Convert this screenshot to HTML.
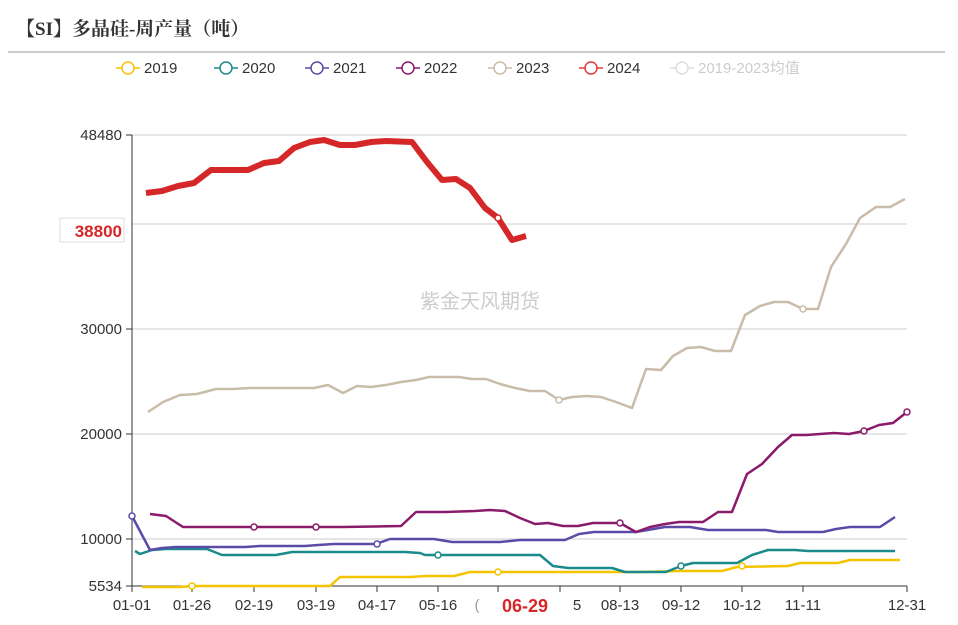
<!DOCTYPE html>
<html><head><meta charset="utf-8"><style>
body{margin:0;background:#fff;width:958px;height:620px;overflow:hidden;font-family:"Liberation Sans","Noto Sans CJK SC",sans-serif}
</style></head><body>
<svg width="958" height="620" xmlns="http://www.w3.org/2000/svg" font-family="Liberation Sans, Noto Sans CJK SC, sans-serif">
<text x="16" y="35" font-size="19" font-weight="bold" fill="#333" font-family="Liberation Serif, Noto Serif CJK SC, serif">【SI】多晶硅-周产量（吨）</text>
<line x1="8" y1="52" x2="945" y2="52" stroke="#bbb" stroke-width="1.5"/>
<g font-size="15" fill="#333">
<g fill="none" stroke-width="1.5">
<line x1="116" y1="68" x2="140" y2="68" stroke="#f5c400"/><circle cx="128" cy="68" r="6" fill="#fff" stroke="#f5c400"/>
<line x1="214" y1="68" x2="238" y2="68" stroke="#1b8a8a"/><circle cx="226" cy="68" r="6" fill="#fff" stroke="#1b8a8a"/>
<line x1="305" y1="68" x2="329" y2="68" stroke="#5b4aa8"/><circle cx="317" cy="68" r="6" fill="#fff" stroke="#5b4aa8"/>
<line x1="396" y1="68" x2="420" y2="68" stroke="#8a1a6a"/><circle cx="408" cy="68" r="6" fill="#fff" stroke="#8a1a6a"/>
<line x1="488" y1="68" x2="512" y2="68" stroke="#c9bca8"/><circle cx="500" cy="68" r="6" fill="#fff" stroke="#c9bca8"/>
<line x1="579" y1="68" x2="603" y2="68" stroke="#e03c3c"/><circle cx="591" cy="68" r="6" fill="#fff" stroke="#e03c3c"/>
<line x1="670" y1="68" x2="694" y2="68" stroke="#ddd"/><circle cx="682" cy="68" r="6" fill="#fff" stroke="#ddd"/>
</g>
<text x="144" y="73">2019</text><text x="242" y="73">2020</text><text x="333" y="73">2021</text><text x="424" y="73">2022</text><text x="516" y="73">2023</text><text x="607" y="73">2024</text><text x="698" y="73" fill="#ccc">2019-2023均值</text>
</g>
<g stroke="#ccc" stroke-width="1">
<line x1="132" y1="135" x2="907" y2="135"/><line x1="132" y1="224" x2="907" y2="224"/><line x1="132" y1="329" x2="907" y2="329"/><line x1="132" y1="434" x2="907" y2="434"/><line x1="132" y1="539" x2="907" y2="539"/>
</g>
<line x1="132" y1="135" x2="132" y2="586" stroke="#333"/>
<line x1="126" y1="586" x2="907" y2="586" stroke="#333"/>
<g stroke="#333">
<line x1="126" y1="135" x2="132" y2="135"/><line x1="126" y1="329" x2="132" y2="329"/><line x1="126" y1="434" x2="132" y2="434"/><line x1="126" y1="539" x2="132" y2="539"/>
<line x1="132" y1="586" x2="132" y2="592"/><line x1="192" y1="586" x2="192" y2="592"/><line x1="254" y1="586" x2="254" y2="592"/><line x1="316" y1="586" x2="316" y2="592"/><line x1="377" y1="586" x2="377" y2="592"/><line x1="438" y1="586" x2="438" y2="592"/><line x1="498" y1="586" x2="498" y2="592"/><line x1="560" y1="586" x2="560" y2="592"/><line x1="620" y1="586" x2="620" y2="592"/><line x1="681" y1="586" x2="681" y2="592"/><line x1="742" y1="586" x2="742" y2="592"/><line x1="803" y1="586" x2="803" y2="592"/><line x1="907" y1="586" x2="907" y2="592"/>
</g>
<g font-size="15" fill="#333" text-anchor="end">
<text x="122" y="140">48480</text><text x="122" y="334">30000</text><text x="122" y="439">20000</text><text x="122" y="544">10000</text><text x="122" y="591">5534</text>
</g>
<rect x="60" y="218" width="64" height="24" fill="#fff" stroke="#ddd"/>
<text x="122" y="237" font-size="17" font-weight="bold" fill="#d62728" text-anchor="end">38800</text>
<g font-size="15" fill="#333" text-anchor="middle">
<text x="132" y="610">01-01</text><text x="192" y="610">01-26</text><text x="254" y="610">02-19</text><text x="316" y="610">03-19</text><text x="377" y="610">04-17</text><text x="438" y="610">05-16</text><text x="477" y="610" fill="#999">(</text><text x="577" y="610">5</text><text x="620" y="610">08-13</text><text x="681" y="610">09-12</text><text x="742" y="610">10-12</text><text x="803" y="610">11-11</text><text x="907" y="610">12-31</text>
<text x="525" y="612" font-size="18" font-weight="bold" fill="#d62728">06-29</text>
</g>
<text x="480" y="308" font-size="20" fill="#ccc" text-anchor="middle">紫金天风期货</text>
<g fill="none" stroke-linejoin="round">
<polyline stroke="#c9bca8" stroke-width="2.5" points="148,412 163,402 180,395 197,394 216,389 233,389 250,388 266,388 283,388 299,388 314,388 328,385 343,393 357,386 371,387 386,385 401,382 416,380 429,377 444,377 459,377 472,379 486,379 500,384 515,388 530,391 545,391 559,400 572,397 587,396 601,397 616,402 632,408 646,369 661,370 673,356 687,348 701,347 715,351 731,351 745,315 760,306 774,302 788,302 803,309 818,309 831,267 846,244 860,218 876,207 890,207 905,199"/>
<polyline stroke="#f5c400" stroke-width="2.5" points="142,587 180,587 192,586 320,586 330,586 340,577 410,577 426,576 454,576 470,572 640,572 680,571 722,571 737,567 788,566 800,563 838,563 850,560 900,560"/>
<polyline stroke="#1b8a8a" stroke-width="2.5" points="135,551 140,554 152,550 166,549 207,549 222,555 276,555 292,552 405,552 420,553 425,555 540,555 553,566 568,568 612,568 625,572 666,572 681,566 693,563 737,563 752,555 768,550 795,550 808,551 895,551"/>
<polyline stroke="#5b4aa8" stroke-width="2.5" points="132,516 150,550 162,548 176,547 245,547 260,546 305,546 318,545 334,544 376,544 390,539 434,539 452,542 500,542 520,540 565,540 579,534 594,532 636,532 665,527 690,527 708,530 766,530 778,532 823,532 836,529 850,527 880,527 895,517"/>
<polyline stroke="#8a1a6a" stroke-width="2.5" points="150,514 166,516 183,527 343,527 401,526 416,512 445,512 475,511 490,510 505,511 520,518 535,524 548,523 563,526 578,526 593,523 620,523 636,532 650,527 665,524 679,522 703,522 718,512 732,512 747,474 762,464 778,447 792,435 806,435 834,433 849,434 864,431 879,425 893,423 907,412"/>
<polyline stroke="#d62728" stroke-width="6" points="146,193 162,191 178,186 194,183 211,170 248,170 264,163 279,161 294,148 310,142 324,140 340,145 355,145 371,142 386,141 412,142 427,162 442,180 456,179 470,188 485,208 498,218 512,240 526,236"/>
</g>
<g fill="#fff" stroke-width="1.5">
<circle cx="498" cy="218" r="3" stroke="#d62728"/>
<circle cx="559" cy="400" r="3" stroke="#c9bca8"/><circle cx="803" cy="309" r="3" stroke="#c9bca8"/>
<circle cx="192" cy="586" r="3" stroke="#f5c400"/><circle cx="498" cy="572" r="3" stroke="#f5c400"/><circle cx="742" cy="566" r="3" stroke="#f5c400"/>
<circle cx="438" cy="555" r="3" stroke="#1b8a8a"/><circle cx="681" cy="566" r="3" stroke="#1b8a8a"/>
<circle cx="132" cy="516" r="3" stroke="#5b4aa8"/><circle cx="377" cy="544" r="3" stroke="#5b4aa8"/>
<circle cx="254" cy="527" r="3" stroke="#8a1a6a"/><circle cx="316" cy="527" r="3" stroke="#8a1a6a"/><circle cx="620" cy="523" r="3" stroke="#8a1a6a"/><circle cx="864" cy="431" r="3" stroke="#8a1a6a"/><circle cx="907" cy="412" r="3" stroke="#8a1a6a"/>
</g>
</svg>
</body></html>
